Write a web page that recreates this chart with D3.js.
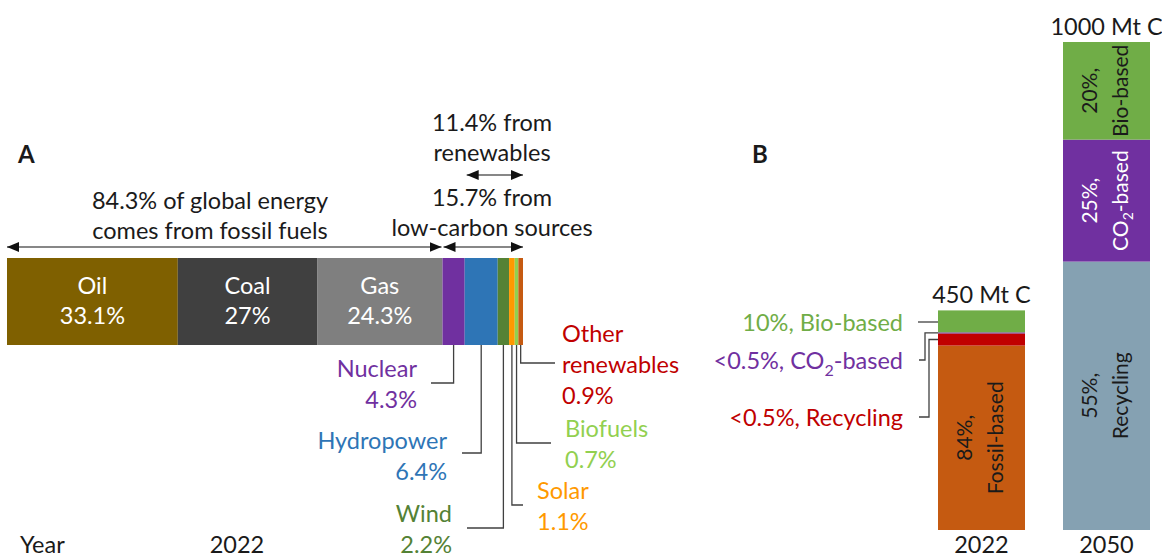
<!DOCTYPE html>
<html>
<head>
<meta charset="utf-8">
<script src="https://cdn.jsdelivr.net/npm/d3@7"></script>
<style>
  body { margin: 0; background: #fff; }
  svg text { font-family: Lato, "Open Sans", sans-serif; font-size: 23.5px; fill: #1a1a1a; }
  svg text.rot { font-size: 21px; }
</style>
</head>
<body>
<div id="chart"></div>
<script>
// panel A: global energy mix 2022 (%)
const sources = ["Oil", "Coal", "Gas", "Nuclear", "Hydropower", "Wind", "Solar", "Biofuels", "Other renewables"];
const shares = [33.1, 27, 24.3, 4.3, 6.4, 2.2, 1.1, 0.7, 0.9];
const fossilShare = 84.3, lowCarbonShare = 15.7, renewableShare = 11.4;

// panel B: carbon feedstock for chemicals (Mt C, % of total)
const years = ["2022", "2050"];
const totalsMtC = [450, 1000];
const feedstocks = ["Fossil-based", "Recycling", "CO2-based", "Bio-based"];
const shares2022 = [84, 5.5, 0.5, 10];
const shares2050 = [0, 55, 25, 20];
const shareLabels2022 = ["84%", "<0.5%", "<0.5%", "10%"];
const shareLabels2050 = ["", "55%", "25%", "20%"];

const sourceColors = ["#7f6000", "#404040", "#7f7f7f", "#7030a0", "#2e75b6", "#548235", "#ff9900", "#92d050", "#c55a11"];
const sourceTextColors = [null, null, null, "#7030a0", "#2e75b6", "#548235", "#ff9900", "#92d050", "#c00000"];
const colors2022 = ["#c55a11", "#c00000", "#7030a0", "#70ad47"];
const colors2050 = ["#c55a11", "#85a1b2", "#7030a0", "#70ad47"];

const width = 1162, height = 558;
const svg = d3.select("#chart").append("svg").attr("width", width).attr("height", height);

svg.append("defs").append("marker")
  .attr("id", "head")
  .attr("markerUnits", "userSpaceOnUse")
  .attr("markerWidth", 13).attr("markerHeight", 10)
  .attr("refX", 12).attr("refY", 5)
  .attr("orient", "auto-start-reverse")
  .append("path").attr("d", "M0,0 L12,5 L0,10 Z").attr("fill", "#111");

function addName(sel, name, subSize) {
  // CO2 with subscript
  if (name.indexOf("CO2") >= 0) {
    const parts = name.split("CO2");
    sel.append("tspan").text(parts[0] + "CO");
    sel.append("tspan").text("2").attr("font-size", subSize || "16px").attr("baseline-shift", "sub");
    sel.append("tspan").text(parts[1]);
  } else {
    sel.append("tspan").text(name);
  }
}

// ---------------- Panel A ----------------
const total = d3.sum(shares);
const starts = [0, ...d3.cumsum(shares)].slice(0, -1);
const xA = d3.scaleLinear().domain([0, total]).range([7, 523]);
const barTop = 258, barBot = 345;

svg.append("text").attr("x", 18).attr("y", 153).attr("dominant-baseline", "central")
  .style("font-weight", "bold").style("font-size", "24px").text("A");

svg.selectAll(".seg")
  .data(shares)
  .enter()
  .append("rect")
  .attr("class", "seg")
  .attr("x", (d, i) => xA(starts[i]))
  .attr("width", (d, i) => xA(starts[i] + d) - xA(starts[i]))
  .attr("y", barTop)
  .attr("height", barBot - barTop)
  .attr("fill", (d, i) => sourceColors[i]);

// fossil labels inside the bar
shares.slice(0, 3).forEach((d, i) => {
  const cx = xA(starts[i] + d / 2);
  svg.append("text").attr("x", cx).attr("y", 285).attr("text-anchor", "middle")
    .attr("dominant-baseline", "central").style("fill", "#fff").text(sources[i]);
  svg.append("text").attr("x", cx).attr("y", 315).attr("text-anchor", "middle")
    .attr("dominant-baseline", "central").style("fill", "#fff").text(d + "%");
});

// arrows and their captions
const fossilEnd = xA(starts[3]);
const renewStart = xA(starts[4]);
const barEnd = xA(total);
function arrow(x1, x2, y) {
  svg.append("line").attr("x1", x1).attr("x2", x2).attr("y1", y).attr("y2", y)
    .attr("stroke", "#111").attr("stroke-width", 1.2)
    .attr("marker-start", "url(#head)").attr("marker-end", "url(#head)");
}
arrow(xA(0), fossilEnd - 1, 247);
arrow(fossilEnd + 1, barEnd, 247);
arrow(renewStart + 2, barEnd, 175);

function centered(lines, x, y0) {
  lines.forEach((t, k) => {
    svg.append("text").attr("x", x).attr("y", y0 + k * 30).attr("text-anchor", "middle")
      .attr("dominant-baseline", "central").text(t);
  });
}
centered([fossilShare + "% of global energy", "comes from fossil fuels"], 210, 200);
centered([renewableShare + "% from", "renewables"], 492, 122);
centered([lowCarbonShare + "% from", "low-carbon sources"], 492, 197);

// callouts for the low-carbon slices
const callouts = [
  { i: 3, elbowY: 383, endX: 431, anchor: "end", tx: 417, ty: 368, lines: ["Nuclear"] },
  { i: 4, elbowY: 453, endX: 462, anchor: "end", tx: 447, ty: 440, lines: ["Hydropower"] },
  { i: 5, elbowY: 528, endX: 467, anchor: "end", tx: 452, ty: 513, lines: ["Wind"] },
  { i: 6, elbowY: 505, endX: 523, anchor: "start", tx: 537, ty: 490, lines: ["Solar"] },
  { i: 7, elbowY: 443, endX: 551, anchor: "start", tx: 565, ty: 428, lines: ["Biofuels"] },
  { i: 8, elbowY: 363, endX: 555, anchor: "start", tx: 562, ty: 333, lines: ["Other", "renewables"] }
];
callouts.forEach(c => {
  const cx = xA(starts[c.i] + shares[c.i] / 2);
  svg.append("path")
    .attr("d", `M${cx},${barBot} V${c.elbowY} H${c.endX}`)
    .attr("fill", "none").attr("stroke", "#404040").attr("stroke-width", 1.3);
  const lines = c.lines.concat([shares[c.i] + "%"]);
  lines.forEach((t, k) => {
    svg.append("text").attr("x", c.tx).attr("y", c.ty + k * 31)
      .attr("text-anchor", c.anchor).attr("dominant-baseline", "central")
      .style("fill", sourceTextColors[c.i]).text(t);
  });
});

svg.append("text").attr("x", 20).attr("y", 544).attr("dominant-baseline", "central").text("Year");
svg.append("text").attr("x", 237).attr("y", 544).attr("text-anchor", "middle")
  .attr("dominant-baseline", "central").text(years[0]);

// ---------------- Panel B ----------------
svg.append("text").attr("x", 752).attr("y", 153).attr("dominant-baseline", "central")
  .style("font-weight", "bold").style("font-size", "24px").text("B");

const yB = d3.scaleLinear().domain([0, 1000]).range([530, 42]);
const xB = d3.scaleBand().domain(years).range([938, 1150]).paddingInner(0.304);

const stacks = years.map((yr, j) => {
  const sh = j === 0 ? shares2022 : shares2050;
  const cols = j === 0 ? colors2022 : colors2050;
  const labs = j === 0 ? shareLabels2022 : shareLabels2050;
  let acc = 0;
  return sh.map((s, k) => {
    const v = s / 100 * totalsMtC[j];
    const seg = { year: yr, name: feedstocks[k], share: s, label: labs[k], y0: acc, y1: acc + v, color: cols[k] };
    acc += v;
    return seg;
  }).filter(d => d.share > 0);
});

stacks.forEach((segs, j) => {
  svg.selectAll(".b" + j)
    .data(segs)
    .enter()
    .append("rect")
    .attr("x", xB(years[j]))
    .attr("width", xB.bandwidth())
    .attr("y", d => yB(d.y1))
    .attr("height", d => yB(d.y0) - yB(d.y1))
    .attr("fill", d => d.color);

  const cx = xB(years[j]) + xB.bandwidth() / 2;
  svg.append("text").attr("x", cx).attr("y", yB(totalsMtC[j]) - 16).attr("text-anchor", "middle")
    .attr("dominant-baseline", "central").text(totalsMtC[j] + " Mt C");
  svg.append("text").attr("x", cx).attr("y", 544).attr("text-anchor", "middle")
    .attr("dominant-baseline", "central").text(years[j]);

  // rotated labels inside the large segments
  segs.filter(d => d.share >= 20).forEach(d => {
    const cy = (yB(d.y0) + yB(d.y1)) / 2;
    const g = svg.append("g").attr("transform", `translate(${cx - 3},${cy}) rotate(-90)`);
    const fill = d.name === "CO2-based" ? "#fff" : "#1a1a1a";
    g.append("text").attr("class", "rot").attr("x", 0).attr("y", -15).attr("text-anchor", "middle")
      .attr("dominant-baseline", "central").style("fill", fill).text(d.label + ",");
    const t = g.append("text").attr("class", "rot").attr("x", 0).attr("y", 15).attr("text-anchor", "middle")
      .attr("dominant-baseline", "central").style("fill", fill);
    addName(t, d.name, "14px");
  });
});

// external labels for the small 2022 segments
const seg2022 = stacks[0];
const barLeft = xB(years[0]);
const extLabels = [
  { name: "Bio-based", ty: 322, path: d => `M${barLeft},322 H918` },
  { name: "CO2-based", ty: 360, path: d => `M${barLeft},${(yB(d.y0) + yB(d.y1)) / 2} H925 V360 H919` },
  { name: "Recycling", ty: 417, path: d => `M${barLeft},${(yB(d.y0) + yB(d.y1)) / 2} H929 V417 H919` }
];
extLabels.forEach(e => {
  const d = seg2022.find(s => s.name === e.name);
  svg.append("path").attr("d", e.path(d)).attr("fill", "none")
    .attr("stroke", "#404040").attr("stroke-width", 1.3);
  const t = svg.append("text").attr("x", 903).attr("y", e.ty).attr("text-anchor", "end")
    .attr("dominant-baseline", "central").style("fill", d.color);
  addName(t, d.label + ", " + d.name);
});
</script>
</body>
</html>
